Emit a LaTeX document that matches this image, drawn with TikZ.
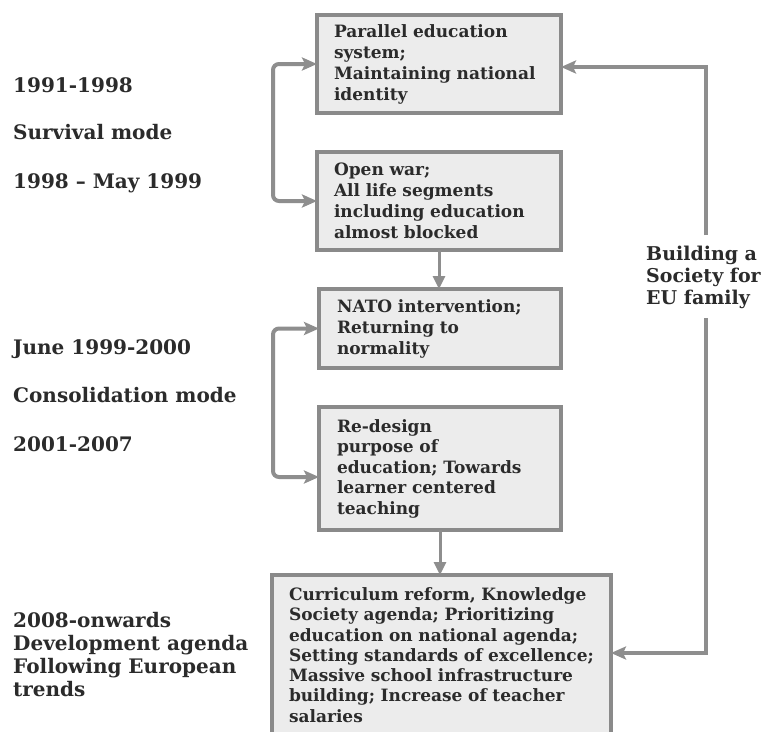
\documentclass[tikz,border=0pt]{standalone}
\usepackage{fontspec}
\setmainfont{DejaVu Serif}
\usetikzlibrary{arrows.meta}
\definecolor{boxfill}{HTML}{ECECEC}
\definecolor{boxline}{HTML}{8A8A8A}
\definecolor{flowgray}{HTML}{8E8E8E}
\definecolor{ink}{HTML}{2B2B2B}
\begin{document}
\begin{tikzpicture}[x=1pt,y=-1pt,
  stage/.style={draw=boxline, line width=4pt, fill=boxfill, outer sep=0pt,
    inner sep=0pt, align=left, text=ink,
    font=\bfseries\fontsize{17}{21}\selectfont},
  period/.style={anchor=base west, text=ink, inner sep=0pt,
    font=\bfseries\fontsize{20}{23}\selectfont},
  flow/.style={draw=flowgray, line width=4pt,
    -{Stealth[length=15pt,width=13pt,inset=3pt]}},
  flowboth/.style={draw=flowgray, line width=4pt, rounded corners=6pt,
    {Stealth[length=15pt,width=13pt,inset=3pt]}-{Stealth[length=15pt,width=13pt,inset=3pt]}},
  down/.style={draw=flowgray, line width=3pt,
    -{Triangle[length=13pt,width=12pt]}}]
\useasboundingbox (0,0) rectangle (770,731);
\fill[white] (0,0) rectangle (770,731);

% stages of the education system
\node[stage, minimum width=244, minimum height=98, text width=210] (b1) at (439,64)
  {Parallel education\\system;\\Maintaining national\\identity};
\node[stage, minimum width=244, minimum height=98, text width=210] (b2) at (439,201)
  {Open war;\\All life segments\\including education\\almost blocked};
\node[stage, minimum width=242, minimum height=79, text width=206] (b3) at (440,328.5)
  {NATO intervention;\\Returning to\\normality};
\node[stage, minimum width=242, minimum height=123, text width=206, font=\bfseries\fontsize{17}{20.5}\selectfont] (b4) at (440,468.5)
  {Re-design\\purpose of\\education; Towards\\learner centered\\teaching};
\node[stage, minimum width=339, minimum height=160, text width=305, font=\bfseries\fontsize{17}{20.3}\selectfont] (b5) at (441.5,655)
  {Curriculum reform, Knowledge\\Society agenda; Prioritizing\\education on national agenda;\\Setting standards of excellence;\\Massive school infrastructure\\building; Increase of teacher\\salaries};

% periods on the left
\node[period] (p1) at (13,92) {1991-1998};
\node[period] (p2) at (13,139) {Survival mode};
\node[period] (p3) at (13,188) {1998 -- May 1999};
\node[period] (p4) at (13,354) {June 1999-2000};
\node[period] (p5) at (13,402) {Consolidation mode};
\node[period] (p6) at (13,451) {2001-2007};
\node[period, anchor=west, align=left] (p7) at (13,655)
  {2008-onwards\\Development agenda\\Following European\\trends};

% goal on the right
\node[period, anchor=west, align=left, font=\bfseries\fontsize{19}{22}\selectfont] (goal) at (646,277)
  {Building a\\Society for\\EU family};

% brackets joining the stages of each mode
\draw[flowboth] (b1.west) -- ++(-44,0) |- (b2.west);
\draw[flowboth] (b3.west) -- ++(-46,0) |- ([yshift=-8.5pt]b4.west);

% transitions between modes
\draw[down] (b2.south) -- (b2.south |- b3.north);
\draw[down] (b4.south) -- (b4.south |- b5.north);

% loop towards the EU goal
\coordinate (upper) at (706,235);
\coordinate (lower) at (706,318);
\draw[flow] (upper) |- ([yshift=-3pt]b1.east);
\draw[flow] (lower) |- ([yshift=2pt]b5.east);
\end{tikzpicture}
\end{document}
